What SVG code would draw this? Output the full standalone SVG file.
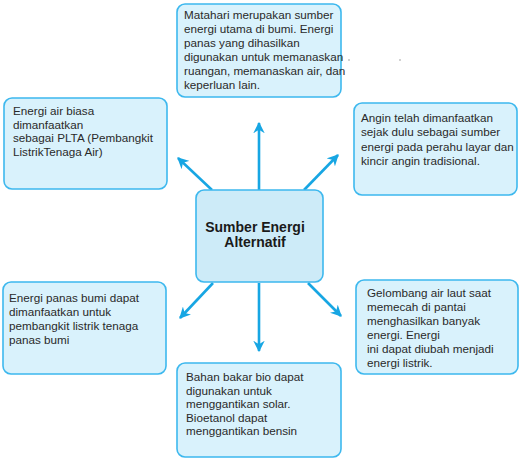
<svg xmlns="http://www.w3.org/2000/svg" width="525" height="462" viewBox="0 0 525 462">
<defs>
<style>
.box{fill:#d9f2fc;stroke:#3db8ee;stroke-width:1.6}
.ctr{fill:#cdebf8;stroke:#3db8ee;stroke-width:1.6}
.t{font-family:"Liberation Sans",Arial,sans-serif;font-size:11.7px;fill:#2a2a2a}
.c{font-family:"Liberation Sans",Arial,sans-serif;font-size:14px;font-weight:bold;fill:#1a1a1a;text-anchor:middle}
.ar{stroke:#17a6e3;stroke-width:2.6;fill:none;marker-end:url(#ah)}
</style>
<marker id="ah" viewBox="0 0 10 10" refX="9" refY="5" markerWidth="4.4" markerHeight="4.4" orient="auto" markerUnits="strokeWidth">
<path d="M0,0 L10,5 L0,10 L3,5 Z" fill="#17a6e3"/>
</marker>
</defs>
<rect width="525" height="462" fill="#ffffff"/>
<g id="connectors">
<line class="ar" x1="259" y1="190" x2="259" y2="123"/>
<line class="ar" x1="212" y1="190" x2="178" y2="158"/>
<line class="ar" x1="304" y1="190" x2="338" y2="155"/>
<line class="ar" x1="213" y1="283" x2="180" y2="318"/>
<line class="ar" x1="259" y1="283" x2="259" y2="351"/>
<line class="ar" x1="308" y1="283" x2="341" y2="316"/>
</g>
<g id="center">
<rect class="ctr" x="196" y="190" width="127" height="92" rx="8"/>
<text class="c" x="255" y="232">Sumber Energi</text>
<text class="c" x="255" y="247">Alternatif</text>
</g>
<g id="top">
<rect class="box" x="177" y="4" width="164" height="93" rx="8"/>
<text class="t" x="184" y="19">Matahari merupakan sumber</text>
<text class="t" x="184" y="33">energi utama di bumi. Energi</text>
<text class="t" x="184" y="47">panas yang dihasilkan</text>
<text class="t" x="184" y="61">digunakan untuk memanaskan</text>
<text class="t" x="184" y="75">ruangan, memanaskan air, dan</text>
<text class="t" x="184" y="89">keperluan lain.</text>
</g>
<g id="dots">
<circle cx="349" cy="60" r="0.8" fill="#999"/>
<circle cx="400" cy="60" r="0.8" fill="#999"/>
</g>
<g id="left">
<rect class="box" x="4" y="98" width="163" height="91" rx="8"/>
<text class="t" x="13" y="115">Energi air biasa</text>
<text class="t" x="13" y="128.5">dimanfaatkan</text>
<text class="t" x="13" y="142">sebagai PLTA (Pembangkit</text>
<text class="t" x="13" y="155.5">ListrikTenaga Air)</text>
</g>
<g id="right">
<rect class="box" x="354" y="103" width="163" height="92" rx="8"/>
<text class="t" x="361" y="122">Angin telah dimanfaatkan</text>
<text class="t" x="361" y="136">sejak dulu sebagai sumber</text>
<text class="t" x="361" y="151">energi pada perahu layar dan</text>
<text class="t" x="361" y="165">kincir angin tradisional.</text>
</g>
<g id="bottom-left">
<rect class="box" x="3" y="282" width="163" height="92" rx="8"/>
<text class="t" x="9" y="302">Energi panas bumi dapat</text>
<text class="t" x="9" y="316">dimanfaatkan untuk</text>
<text class="t" x="9" y="330">pembangkit listrik tenaga</text>
<text class="t" x="9" y="344">panas bumi</text>
</g>
<g id="bottom-right">
<rect class="box" x="356" y="280" width="162" height="94" rx="8"/>
<text class="t" x="367" y="297">Gelombang air laut saat</text>
<text class="t" x="367" y="311">memecah di pantai</text>
<text class="t" x="367" y="325">menghasilkan banyak</text>
<text class="t" x="367" y="339">energi. Energi</text>
<text class="t" x="367" y="352.5">ini dapat diubah menjadi</text>
<text class="t" x="367" y="366.5">energi listrik.</text>
</g>
<g id="bottom">
<rect class="box" x="177" y="363" width="164" height="94" rx="8"/>
<text class="t" x="186" y="381">Bahan bakar bio dapat</text>
<text class="t" x="186" y="394.5">digunakan untuk</text>
<text class="t" x="186" y="408">menggantikan solar.</text>
<text class="t" x="186" y="421.5">Bioetanol dapat</text>
<text class="t" x="186" y="435">menggantikan bensin</text>
</g>
</svg>
